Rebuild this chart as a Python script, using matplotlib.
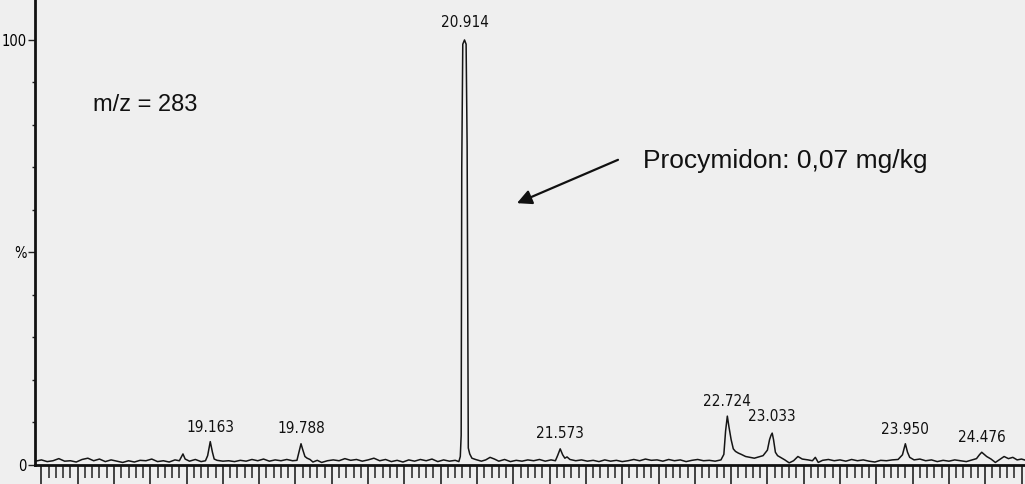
import matplotlib
matplotlib.use("Agg")
import matplotlib.pyplot as plt
from matplotlib.ticker import MultipleLocator

# ── Data (m/z = 283) ─────────────────────────────────────────────────────────

rt = [17.96, 18.00, 18.04, 18.08, 18.12, 18.16, 18.20, 18.24, 18.28, 18.32,
      18.36, 18.40, 18.44, 18.48, 18.52, 18.56, 18.60, 18.64, 18.68, 18.72,
      18.76, 18.80, 18.84, 18.88, 18.92, 18.95, 18.975, 18.99, 19.02, 19.06,
      19.10, 19.13, 19.145, 19.163, 19.178, 19.19, 19.21, 19.25, 19.29, 19.33,
      19.37, 19.41, 19.45, 19.49, 19.53, 19.57, 19.61, 19.65, 19.69, 19.73,
      19.76, 19.775, 19.788, 19.80, 19.815, 19.83, 19.85, 19.87, 19.90, 19.93,
      19.97, 20.01, 20.05, 20.09, 20.13, 20.17, 20.21, 20.25, 20.29, 20.33,
      20.37, 20.41, 20.45, 20.49, 20.53, 20.57, 20.61, 20.65, 20.69, 20.73,
      20.77, 20.81, 20.85, 20.875, 20.885, 20.891, 20.895, 20.902, 20.914, 20.925,
      20.932, 20.936, 20.940, 20.950, 20.965, 20.99, 21.03, 21.06, 21.09, 21.12,
      21.15, 21.19, 21.23, 21.27, 21.31, 21.35, 21.39, 21.43, 21.47, 21.51,
      21.54, 21.555, 21.573, 21.59, 21.605, 21.62, 21.64, 21.68, 21.72, 21.76,
      21.80, 21.84, 21.88, 21.92, 21.96, 22.00, 22.04, 22.08, 22.12, 22.16,
      22.20, 22.24, 22.28, 22.32, 22.36, 22.40, 22.44, 22.48, 22.52, 22.56,
      22.60, 22.64, 22.68, 22.70, 22.712, 22.724, 22.735, 22.75, 22.765, 22.78,
      22.80, 22.82, 22.85, 22.88, 22.91, 22.94, 22.97, 23.00, 23.015, 23.025,
      23.033, 23.042, 23.055, 23.07, 23.09, 23.12, 23.15, 23.18, 23.21, 23.24,
      23.28, 23.31, 23.33, 23.35, 23.38, 23.42, 23.46, 23.50, 23.54, 23.58,
      23.62, 23.66, 23.70, 23.74, 23.78, 23.82, 23.86, 23.90, 23.93, 23.950,
      23.965, 23.98, 24.01, 24.05, 24.09, 24.13, 24.17, 24.21, 24.25, 24.29,
      24.33, 24.37, 24.41, 24.44, 24.46, 24.476, 24.49, 24.51, 24.54, 24.57,
      24.60, 24.63, 24.66, 24.69, 24.72, 24.75, 24.78]

abund = [0.9, 1.2, 0.8, 1.0, 1.5, 0.9, 1.0, 0.7, 1.3, 1.6,
         1.0, 1.4, 0.8, 1.2, 0.9, 0.6, 1.0, 0.7, 1.1, 1.0,
         1.4, 0.8, 1.0, 0.7, 1.2, 1.0, 2.6, 1.4, 0.9, 1.3,
         0.8, 1.0, 2.2, 5.5, 3.0, 1.4, 1.1, 0.9, 1.0, 0.8,
         1.1, 0.9, 1.3, 1.0, 1.4, 0.9, 1.2, 1.0, 1.3, 1.0,
         1.1, 3.2, 5.0, 3.6, 2.0, 1.6, 1.3, 0.7, 1.1, 0.6,
         1.0, 1.2, 1.0, 1.5, 1.1, 1.3, 0.9, 1.2, 1.6, 1.0,
         1.3, 0.8, 1.1, 0.7, 1.2, 0.9, 1.3, 1.0, 1.4, 0.8,
         1.2, 0.9, 1.1, 0.8, 2.0, 7.0, 70.0, 99.0, 100.0, 99.0,
         75.0, 40.0, 4.0, 2.6, 1.6, 1.3, 0.9, 1.2, 1.8, 1.4,
         0.9, 1.3, 0.8, 1.1, 0.9, 1.2, 1.0, 1.3, 0.9, 1.2,
         1.0, 2.2, 3.8, 2.4, 1.6, 1.9, 1.3, 1.0, 1.2, 0.9,
         1.1, 0.8, 1.2, 0.9, 1.1, 0.8, 1.0, 1.3, 1.0, 1.4,
         1.1, 1.2, 0.9, 1.3, 1.0, 1.2, 0.8, 1.1, 1.3, 1.0,
         1.1, 0.9, 1.2, 2.5, 8.0, 11.5, 9.0, 6.0, 3.8, 3.2,
         2.8, 2.5, 2.0, 1.8, 1.6, 1.9, 2.2, 3.5, 6.0, 7.0,
         7.5, 6.0, 3.0, 2.2, 1.8, 1.2, 0.5, 1.0, 2.0, 1.4,
         1.2, 1.0, 1.8, 0.6, 1.1, 1.3, 1.0, 1.2, 0.9, 1.3,
         1.0, 1.2, 0.9, 0.7, 1.1, 1.0, 1.2, 1.3, 2.4, 5.0,
         3.0, 1.8, 1.2, 1.4, 1.0, 1.2, 0.8, 1.1, 0.9, 1.2,
         1.0, 0.8, 1.2, 1.5, 2.4, 3.0, 2.6, 2.0, 1.4, 0.6,
         1.3, 2.0, 1.5, 1.8, 1.2, 1.4, 1.1]

peak_labels = ["19.163", "19.788", "20.914", "21.573", "22.724", "23.033", "23.950", "24.476"]
peak_rt = [19.163, 19.788, 20.914, 21.573, 22.724, 23.033, 23.950, 24.476]
label_y = [7.1, 6.8, 102.4, 5.7, 13.2, 9.7, 6.6, 4.7]

y_ticks = [0, 50, 100]
y_ticklabels = ["0", "%", "100"]

plain = ["Liberation Sans", "DejaVu Sans"]

fig = plt.figure(figsize=(10.25, 4.84), dpi=100, facecolor="#efefef")
ax = fig.add_axes([35 / 1025, 19 / 484, 990 / 1025, 465 / 484])
ax.set_facecolor("#efefef")

ax.plot(rt, abund, color="#151515", linewidth=1.1, clip_on=False)

ax.set_xlim(17.956, 24.774)
ax.set_ylim(0, 109.4)

for s in ("top", "right"):
    ax.spines[s].set_visible(False)
for s in ("left", "bottom"):
    ax.spines[s].set_linewidth(2.0)
    ax.spines[s].set_color("#111111")

# x: long major ticks every 0.25 min, short minor every 0.05, labels cut off in the scan
ax.xaxis.set_major_locator(MultipleLocator(0.25))
ax.xaxis.set_minor_locator(MultipleLocator(0.05))
ax.tick_params(axis="x", which="major", direction="out", length=16, width=1.2,
               color="#222222", labelbottom=False)
ax.tick_params(axis="x", which="minor", direction="out", length=9, width=1.1,
               color="#222222")

ax.set_yticks(y_ticks)
ax.set_yticklabels(y_ticklabels, family="DejaVu Sans", fontstretch="condensed",
                   fontsize=10.5)
ax.yaxis.set_minor_locator(MultipleLocator(10))
ax.tick_params(axis="y", which="major", direction="out", length=5, width=1.0,
               pad=1, color="#222222")
ax.tick_params(axis="y", which="minor", direction="out", length=2.5, width=1.0,
               color="#222222")

for lbl, t, y in zip(peak_labels, peak_rt, label_y):
    ax.text(t, y, lbl, ha="center", va="bottom", fontsize=11,
            family="DejaVu Sans", fontstretch="condensed",
            color="#111111", clip_on=False)

ax.text(18.355, 84.7, "m/z = 283", ha="left", va="center", fontsize=17,
        family=plain, color="#111111")

ax.annotate("", xy=(21.275, 61.6), xytext=(21.971, 71.8),
            arrowprops=dict(arrowstyle="-|>", color="#111111", lw=1.6,
                            mutation_scale=22, shrinkA=0, shrinkB=0))
ax.text(22.143, 71.5, "Procymidon: 0,07 mg/kg", ha="left", va="center",
        fontsize=19, family=plain, color="#111111")

fig.savefig("out.png", dpi=100, facecolor=fig.get_facecolor())
